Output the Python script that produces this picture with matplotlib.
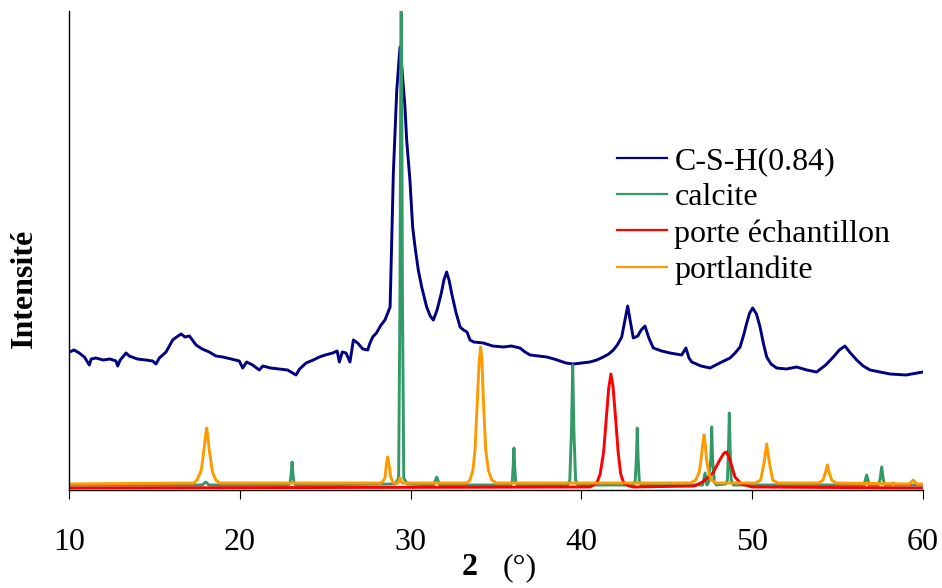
import matplotlib
matplotlib.use('Agg')
import matplotlib.pyplot as plt

plt.rcParams['font.family'] = ['Liberation Serif', 'DejaVu Serif']

# ---------------- data (2theta in degrees, intensity in arbitrary units) ----------------
csh_x = [10.02, 10.3, 10.6, 10.9, 11.19, 11.3, 11.58, 12.0, 12.4, 12.75, 12.85, 13.0, 13.34,
         13.53, 14.0, 14.5, 14.9, 15.09, 15.29, 15.68, 16.07, 16.3, 16.56, 16.8, 17.05, 17.44,
         17.8, 18.21, 18.6, 19.0, 19.5, 19.97, 20.17, 20.4, 20.75, 21.14, 21.35, 21.8, 22.31,
         22.8, 23.29, 23.5, 23.88, 24.3, 24.66, 25.0, 25.44, 25.7, 25.83, 26.0, 26.22, 26.45,
         26.65, 26.9, 27.2, 27.49, 27.6, 27.78, 28.0, 28.27, 28.5, 28.66, 28.8, 28.99, 29.19,
         29.38, 29.5, 29.67, 29.77, 29.96, 30.12, 30.26, 30.45, 30.65, 30.94, 31.15, 31.33,
         31.55, 31.8, 31.95, 32.11, 32.25, 32.4, 32.65, 32.9, 33.1, 33.3, 33.48, 33.7, 34.26,
         34.8, 35.43, 35.9, 36.4, 36.7, 37.0, 37.5, 37.97, 38.4, 38.75, 39.1, 39.53, 40.0,
         40.5, 40.9, 41.28, 41.6, 41.87, 42.1, 42.36, 42.55, 42.71, 42.85, 43.04, 43.3, 43.5,
         43.72, 43.95, 44.21, 44.7, 45.19, 45.87, 46.12, 46.3, 46.46, 47.0, 47.53, 48.1, 48.7,
         49.0, 49.29, 49.5, 49.68, 49.85, 50.03, 50.25, 50.46, 50.65, 50.85, 51.1, 51.43, 52.0,
         52.6, 53.2, 53.77, 54.3, 54.75, 55.1, 55.43, 55.7, 56.12, 56.5, 56.9, 57.5, 58.07,
         59.0, 60.0]
csh_y = [138, 140, 137, 133, 125, 131, 132, 130, 131, 129, 124, 130, 137,
         134, 131, 130, 129, 126, 132, 138, 150, 153, 156, 153, 154, 145,
         141, 138, 134, 133, 131, 129, 122, 128, 125, 120, 124, 122, 121,
         120, 115, 121, 127, 130, 133, 135, 137, 139, 128, 138, 137, 128,
         150, 147, 141, 140, 146, 153, 157, 165, 170, 177, 183, 317, 400,
         443, 420, 383, 350, 310, 263, 243, 220, 203, 183, 174, 170,
         180, 197, 210, 218, 210, 197, 178, 163, 160, 158, 150, 148, 147,
         144, 143, 144, 142, 138, 135, 134, 133, 131, 129, 127, 126, 127,
         128, 130, 133, 136, 140, 145, 153, 170, 184, 170, 152, 154, 160,
         164, 152, 142, 139, 137, 135, 142, 132, 128, 124, 122, 127, 132,
         137, 143, 155, 167, 177, 182, 176, 163, 147, 133, 126, 122, 121,
         123, 120, 118, 125, 133, 140, 144, 138, 130, 124, 120, 118, 116,
         115, 118]

calcite_x = [10.0, 17.8, 18.0, 18.2,
             22.85, 22.95, 23.01, 23.06, 23.11, 23.17, 23.27,
             29.1, 29.3, 29.38, 29.45, 29.52, 29.6, 29.8,
             31.35, 31.53, 31.7,
             35.85, 35.95, 36.0, 36.05, 36.1, 36.15, 36.25,
             39.2, 39.32, 39.42, 39.49, 39.56, 39.66, 39.8,
             43.05, 43.15, 43.22, 43.27, 43.32, 43.39, 43.5,
             47.1, 47.24, 47.35, 47.45, 47.58, 47.63, 47.68, 47.78, 47.9,
             48.45, 48.55, 48.61, 48.66, 48.71, 48.77, 48.9,
             56.55, 56.7, 56.85, 57.38, 57.48, 57.58, 57.68, 57.78,
             58.15, 58.25, 58.35, 60.0]
calcite_y = [5, 5, 8, 5,
             5, 8, 16, 28, 16, 8, 5,
             6, 12, 200, 560, 200, 12, 6,
             5, 13, 5,
             5, 8, 22, 42, 22, 8, 5,
             5, 10, 60, 125, 60, 10, 5,
             5, 9, 32, 62, 32, 9, 5,
             5, 17, 5, 8, 32, 63, 32, 8, 5,
             6, 10, 40, 77, 40, 10, 5,
             5, 15, 5, 5, 10, 23, 10, 5,
             5, 7, 5, 5]

holder_x = [10.0, 40.5, 40.9, 41.1, 41.3, 41.45, 41.6, 41.73, 41.85, 42.0, 42.15, 42.3, 42.5,
            43.0, 46.6, 47.1, 47.7, 48.1, 48.35, 48.5, 48.7, 48.99, 49.37, 50.0, 60.0]
holder_y = [2, 3, 7, 16, 38, 70, 102, 116, 104, 72, 38, 16, 6,
            3, 4, 8, 17, 30, 37, 38, 30, 13, 6, 3, 2]

portl_x = [10.0, 17.3, 17.5, 17.75, 17.9, 18.0, 18.06, 18.12, 18.21, 18.4, 18.6, 18.8,
           28.3, 28.5, 28.58, 28.66, 28.74, 28.85, 29.0, 29.25, 29.38, 29.5,
           33.3, 33.48, 33.65, 33.77, 33.91, 34.02, 34.1, 34.18, 34.26, 34.4, 34.55, 34.75, 35.0,
           46.4, 46.7, 46.9, 47.0, 47.1, 47.18, 47.26, 47.33, 47.45, 47.6, 47.9,
           50.2, 50.5, 50.7, 50.85, 51.0, 51.2, 51.5,
           53.9, 54.15, 54.3, 54.4, 54.5, 54.65, 54.9,
           59.2, 59.43, 59.65, 60.0]
portl_y = [6, 7, 10, 20, 40, 55, 62, 55, 40, 18, 10, 7,
           7, 12, 25, 33, 25, 12, 7, 7, 12, 7,
           7, 10, 20, 40, 90, 130, 143, 130, 90, 40, 20, 10, 7,
           7, 10, 18, 30, 45, 55, 45, 30, 18, 10, 7,
           7, 10, 28, 46, 28, 10, 7,
           7, 10, 18, 25, 18, 10, 7,
           6, 10, 6, 6]

series_labels = ['C-S-H(0.84)', 'calcite', 'porte échantillon', 'portlandite']
series_colors = ['#000080', '#339966', '#FF0000', '#FF9900']
x_ticks = [10, 20, 30, 40, 50, 60]

# ---------------- figure ----------------
W, H = 942, 588
fig = plt.figure(figsize=(W / 100, H / 100), dpi=100)
ax = fig.add_axes([69 / W, 98 / H, 854 / W, 479 / H])

series = [(csh_x, csh_y), (calcite_x, calcite_y), (holder_x, holder_y), (portl_x, portl_y)]
for (xs, ys), lab, col in zip(series, series_labels, series_colors):
    ax.plot(xs, ys, color=col, lw=2.1, label=lab, solid_joinstyle='round')

ax.set_xlim(10, 60)
ax.set_ylim(0, 479)
ax.set_xticks(x_ticks)
ax.set_xticklabels([str(t) for t in x_ticks])
ax.set_yticks([])
ax.tick_params(axis='x', direction='out', length=6.5, width=0.8, labelsize=23, pad=21)
for s in ['top', 'right']:
    ax.spines[s].set_visible(False)
for s in ['left', 'bottom']:
    ax.spines[s].set_linewidth(1.0)
    ax.spines[s].set_color('black')

leg = ax.legend(loc='upper left', bbox_to_anchor=(617 / W, 1 - 147 / H),
                bbox_transform=fig.transFigure, frameon=False, fontsize=23,
                handlelength=1.55, handletextpad=0.25, labelspacing=0.21,
                borderpad=0, borderaxespad=0)
for ln in leg.get_lines():
    ln.set_linewidth(1.6)

fig.text(24 / W, 1 - 288 / H, 'Intensité', rotation=90, ha='center', va='center',
         fontsize=23, fontweight='bold')
fig.text(470 / W, 1 - 575 / H, '2', ha='center', va='baseline', fontsize=23, fontweight='bold')
fig.text(520 / W, 1 - 575 / H, '(°)', ha='center', va='baseline', fontsize=23)

fig.savefig('out.png', dpi=100)
